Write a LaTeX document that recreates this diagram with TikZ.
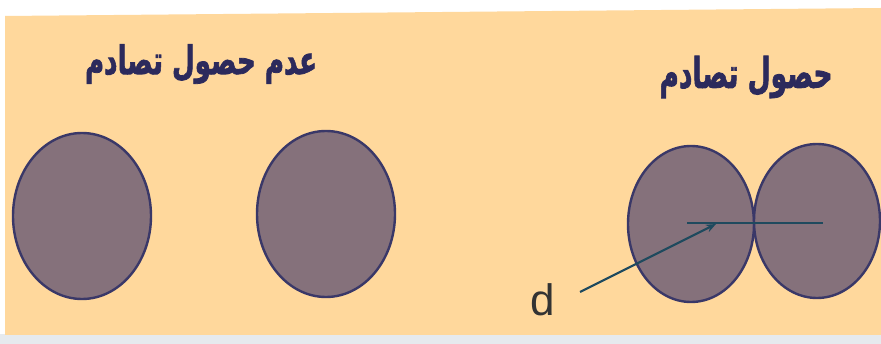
\documentclass[tikz,border=0pt]{standalone}
\usepackage{fontspec}
\setmainfont{Liberation Sans}
\newfontfamily\arabicfont[Script=Arabic, BoldFeatures={FakeBold=2}]{DejaVu Sans}
\TeXXeTstate=1
\usetikzlibrary{arrows.meta}
\definecolor{bgorange}{HTML}{FFD89C}
\definecolor{ballfill}{HTML}{85717B}
\definecolor{ballline}{HTML}{3A3868}
\definecolor{titlecol}{HTML}{2C2A5C}
\definecolor{linecol}{HTML}{1F4A5E}
\definecolor{stripcol}{HTML}{E6EAEE}
\tikzset{
  ball/.style={draw=ballline, line width=2.4pt, fill=ballfill},
  titletext/.style={text=titlecol, inner sep=0pt},
  dline/.style={draw=linecol, line width=2.6pt},
  dlabel/.style={text=black!80, inner sep=0pt, font=\fontsize{44}{48}\selectfont}
}
\begin{document}
\begin{tikzpicture}[x=1pt,y=-1pt]
\useasboundingbox (0,0) rectangle (881,344);
\fill[white] (0,0) rectangle (881,344);
\fill[stripcol] (0,334) rectangle (881,344);
\fill[bgorange] (5,16) -- (881,8) -- (881,335) -- (5,335) -- cycle;
% titles
\node[titletext] (t1) at (201,64) {\resizebox{232pt}{30pt}{\arabicfont\bfseries\beginR عدم حصول تصادم\endR}};
\node[titletext] (t2) at (746,77) {\resizebox{173pt}{32pt}{\arabicfont\bfseries\beginR حصول تصادم\endR}};
% balls, no collision
\draw[ball] (82,216) ellipse [x radius=69, y radius=83];
\draw[ball] (326,214) ellipse [x radius=69, y radius=83];
% balls, collision
\draw[ball] (691,224) ellipse [x radius=63, y radius=78];
\draw[ball] (817,221) ellipse [x radius=63, y radius=77];
\coordinate (c1) at (687,223);
\coordinate (c2) at (823,223);
\draw[dline] (c1) -- (c2);
\node[dlabel] (d) at (543,300) {d};
\coordinate (dstart) at (580,292);
\coordinate (dend) at (716,224);
\draw[draw=linecol, line width=2.2pt, -{Stealth[length=10pt,width=8pt]}] (dstart) -- (dend);
\end{tikzpicture}
\end{document}
